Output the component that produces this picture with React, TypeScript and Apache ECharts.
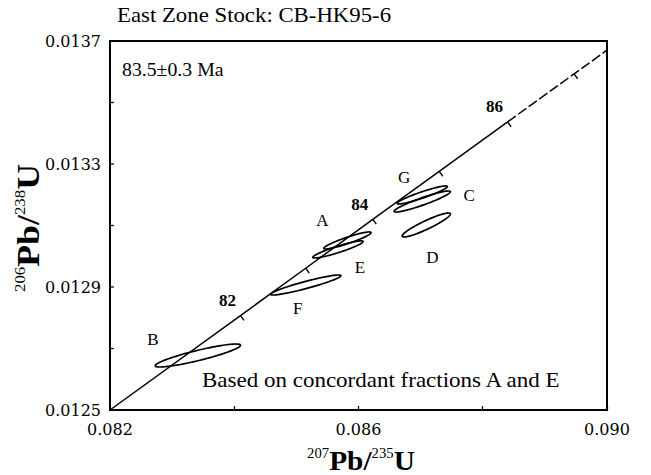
import React, { useEffect, useRef } from "react";
import * as echarts from "echarts";

// ---------- data ----------
const xTickLabels = ["0.082", "0.086", "0.090"];
const yTickLabels = ["0.0125", "0.0129", "0.0133", "0.0137"];
const yTickValues = [0.0125, 0.0127, 0.0129, 0.0131, 0.0133, 0.0135, 0.0137];

// concordia curve (end points and age marks, Ma)
const concordiaStart = [0.082, 0.0125];
const concordiaEnd = [0.09, 0.01367];
const concordiaAges = [82, 83, 84, 85, 86, 87];
const concordiaAgeX = [0.0841, 0.08515, 0.08623, 0.0873, 0.0884, 0.08947];
const concordiaAgeY = [0.012807, 0.012961, 0.01312, 0.013276, 0.013437, 0.013593];
const labelledAges = [82, 84, 86];

// error ellipses of the fractions
const fractions = ["A", "B", "C", "D", "E", "F", "G"];
const ellipseX = [0.085822, 0.083414, 0.087026, 0.087091, 0.085669, 0.085151, 0.087026];
const ellipseY = [0.0130513, 0.0126772, 0.013178, 0.0131016, 0.0130222, 0.0129065, 0.0131993];
const ellipseErrX = [0.00038, 0.000687, 0.000453, 0.000388, 0.000404, 0.000566, 0.000404];
const ellipseErrY = [0.0000277, 0.0000374, 0.0000342, 0.000039, 0.0000279, 0.0000325, 0.0000293];
const ellipseRho = [0.92, 0.89, 0.93, 0.92, 0.92, 0.93, 0.93];

// ---------- styles ----------
const SERIF = '"Liberation Serif", "Times New Roman", serif';
const TICKFONT = '"DejaVu Serif", "Liberation Serif", serif';
const fractionLabelOffsets = [
  [-25, -20],
  [-45, -16],
  [47, -6],
  [6, 32],
  [22, 18],
  [-8, 23],
  [-18, -17],
];

export default function App() {
  const ref = useRef<HTMLDivElement>(null);

  useEffect(() => {
    if (!ref.current) return;
    const chart = echarts.init(ref.current, undefined, { renderer: "svg" });

    const ageIndex86 = concordiaAges.indexOf(86);
    const agePts = concordiaAges.map((_, i) => [concordiaAgeX[i], concordiaAgeY[i]]);
    const solidLine = [concordiaStart, ...agePts.slice(0, ageIndex86 + 1)];
    const dashedLine = [agePts[ageIndex86], ...agePts.slice(ageIndex86 + 1), concordiaEnd];

    const option: any = {
      animation: false,
      backgroundColor: "#fff",
      grid: {
        left: 110,
        right: 44,
        top: 41,
        bottom: 65,
        show: true,
        borderColor: "#000",
        borderWidth: 2,
        containLabel: false,
      },
      xAxis: {
        type: "value",
        min: 0.082,
        max: 0.09,
        interval: 0.002,
        axisLine: { show: true, lineStyle: { color: "#000", width: 2 } },
        axisTick: { show: true, inside: true, length: 4, lineStyle: { color: "#000", width: 1.2 } },
        splitLine: { show: false },
        axisLabel: {
          margin: 11,
          color: "#000",
          fontFamily: TICKFONT,
          fontSize: 16,
          formatter: (v: number) => {
            const s = v.toFixed(3);
            return xTickLabels.includes(s) ? s : "";
          },
        },
      },
      yAxis: {
        type: "value",
        min: 0.0125,
        max: 0.0137,
        interval: 0.0001,
        axisLine: { show: true, lineStyle: { color: "#000", width: 1.8 } },
        axisTick: { show: false },
        splitLine: { show: false },
        axisLabel: {
          margin: 9,
          color: "#000",
          fontFamily: TICKFONT,
          fontSize: 16,
          formatter: (v: number) => {
            const s = v.toFixed(4);
            return yTickLabels.includes(s) ? s : "";
          },
        },
      },
      graphic: [
        {
          type: "text",
          x: 117,
          y: 15,
          scaleX: 1.14,
          style: {
            text: "East Zone Stock: CB-HK95-6",
            font: '20px "Liberation Serif", serif',
            fill: "#000",
            align: "left",
            verticalAlign: "middle",
          },
        },
        {
          type: "text",
          x: 122,
          y: 70,
          scaleX: 1.1,
          style: {
            text: "83.5±0.3 Ma",
            font: '18px "Liberation Serif", serif',
            fill: "#000",
            align: "left",
            verticalAlign: "middle",
          },
        },
        {
          type: "text",
          x: 202,
          y: 381,
          scaleX: 1.15,
          style: {
            text: "Based on concordant fractions A and E",
            font: '20px "Liberation Serif", serif',
            fill: "#000",
            align: "left",
            verticalAlign: "middle",
          },
        },
        {
          type: "text",
          x: 361,
          y: 460,
          scaleX: 1.05,
          style: {
            text: "{s|207}{m|Pb/}{s|235}{m|U}",
            align: "center",
            verticalAlign: "middle",
            fill: "#000",
            rich: {
              s: { fontSize: 14, fontFamily: SERIF, verticalAlign: "top", fill: "#000" },
              m: { fontSize: 28, fontFamily: SERIF, fontWeight: "bold", fill: "#000" },
            },
          },
        },
        {
          type: "text",
          x: 28,
          y: 228,
          scaleX: 1.12,
          rotation: Math.PI / 2,
          style: {
            text: "{s|206}{m|Pb/}{s|238}{m|U}",
            align: "center",
            verticalAlign: "middle",
            fill: "#000",
            rich: {
              s: { fontSize: 15, fontFamily: SERIF, verticalAlign: "top", fill: "#000" },
              m: { fontSize: 32, fontFamily: SERIF, fontWeight: "bold", fill: "#000" },
            },
          },
        },
      ],
      series: [
        {
          type: "line",
          data: solidLine,
          showSymbol: false,
          silent: true,
          lineStyle: { color: "#000", width: 1.5 },
        },
        {
          type: "line",
          data: dashedLine,
          showSymbol: false,
          silent: true,
          lineStyle: { color: "#000", width: 1.5, type: [10, 3] },
        },
        {
          // y-axis ticks (inside)
          type: "custom",
          silent: true,
          data: yTickValues.map((v) => [0.082, v]),
          encode: { x: 0, y: 1 },
          renderItem: (params: any, api: any) => {
            const p = api.coord([api.value(0), api.value(1)]);
            return {
              type: "line",
              shape: { x1: p[0], y1: p[1], x2: p[0] + 4, y2: p[1] },
              style: { stroke: "#000", lineWidth: 1.2 },
            };
          },
        },
        {
          // concordia age marks
          type: "custom",
          silent: true,
          data: concordiaAges.map((a, i) => [concordiaAgeX[i], concordiaAgeY[i], a]),
          encode: { x: 0, y: 1 },
          renderItem: (params: any, api: any) => {
            const p = api.coord([api.value(0), api.value(1)]);
            const a = api.coord(concordiaStart);
            const b = api.coord(concordiaEnd);
            const dx = b[0] - a[0];
            const dy = b[1] - a[1];
            const len = Math.sqrt(dx * dx + dy * dy);
            const nx = -dy / len;
            const ny = dx / len;
            const age = api.value(2);
            const children: any[] = [
              {
                type: "line",
                shape: { x1: p[0], y1: p[1], x2: p[0] + nx * 6, y2: p[1] + ny * 6 },
                style: { stroke: "#000", lineWidth: 1.4 },
              },
            ];
            if (labelledAges.includes(age)) {
              children.push({
                type: "text",
                x: p[0] - 13,
                y: p[1] - 15,
                style: {
                  text: String(age),
                  font: 'bold 17px "Liberation Serif", serif',
                  fill: "#000",
                  align: "center",
                  verticalAlign: "middle",
                },
              });
            }
            return { type: "group", children };
          },
        },
        {
          // error ellipses
          type: "custom",
          silent: true,
          data: fractions.map((_, i) => [ellipseX[i], ellipseY[i], ellipseErrX[i], ellipseErrY[i], ellipseRho[i]]),
          encode: { x: 0, y: 1 },
          renderItem: (params: any, api: any) => {
            const i = params.dataIndex;
            const cx = api.value(0);
            const cy = api.value(1);
            const sx = api.value(2);
            const sy = api.value(3);
            const rho = api.value(4);
            const k = Math.sqrt(1 - rho * rho);
            const pts: number[][] = [];
            const n = 120;
            for (let j = 0; j < n; j++) {
              const t = (j / n) * Math.PI * 2;
              pts.push(api.coord([cx + sx * Math.cos(t), cy + sy * (rho * Math.cos(t) + k * Math.sin(t))]));
            }
            const c = api.coord([cx, cy]);
            const off = fractionLabelOffsets[i];
            return {
              type: "group",
              children: [
                {
                  type: "polygon",
                  shape: { points: pts },
                  style: { fill: "none", stroke: "#000", lineWidth: 1.7 },
                },
                {
                  type: "text",
                  x: c[0] + off[0],
                  y: c[1] + off[1],
                  style: {
                    text: fractions[i],
                    font: '17px "Liberation Serif", serif',
                    fill: "#000",
                    align: "center",
                    verticalAlign: "middle",
                  },
                },
              ],
            };
          },
        },
      ],
    };

    chart.setOption(option);
    return () => chart.dispose();
  }, []);

  return (
    <div
      ref={ref}
      style={{ position: "absolute", left: 0, top: 0, width: 651, height: 475, background: "#fff" }}
    />
  );
}
